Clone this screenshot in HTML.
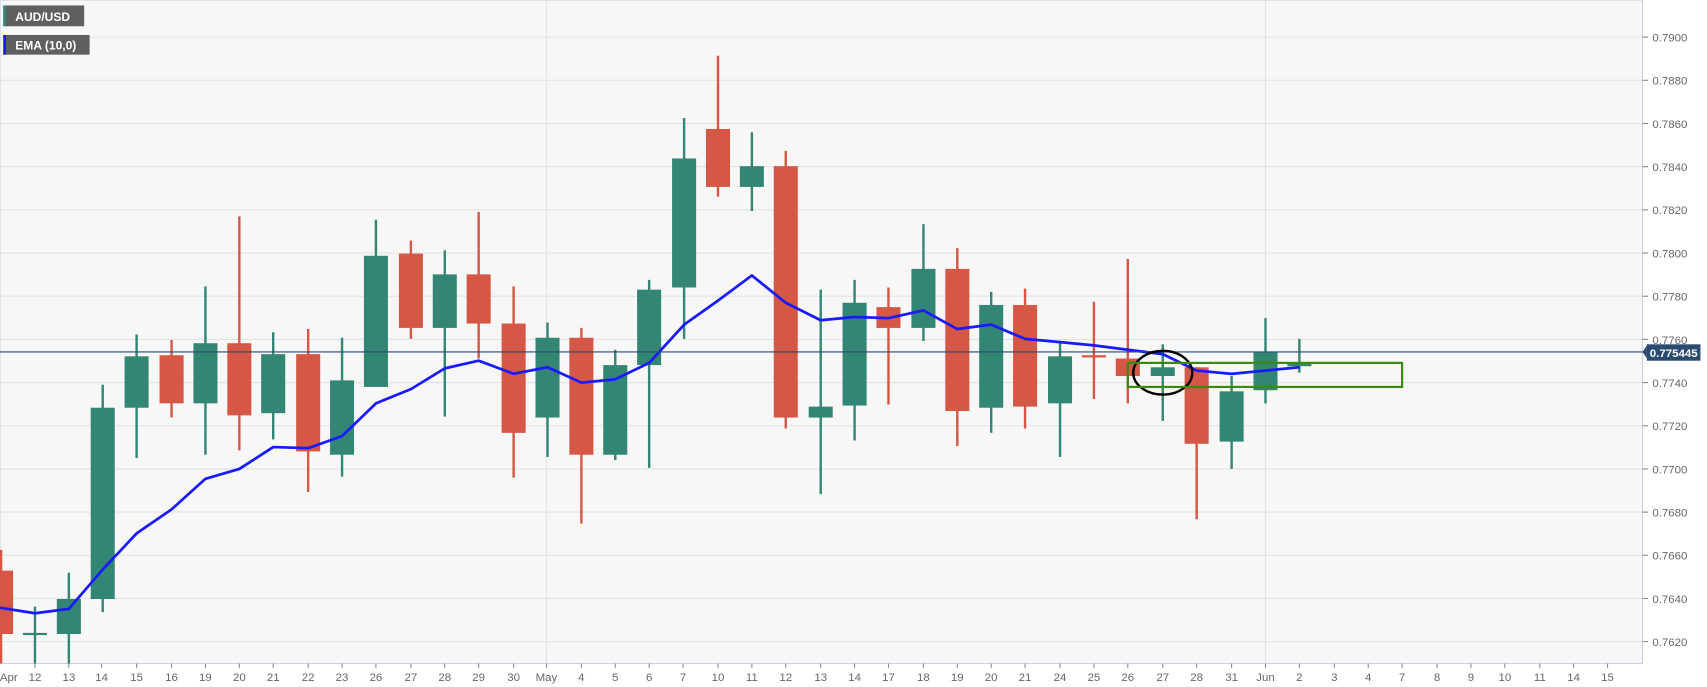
<!DOCTYPE html>
<html><head><meta charset="utf-8"><style>
html,body{margin:0;padding:0;background:#fff;}
svg{display:block;}
text{font-family:"Liberation Sans",Arial,sans-serif;}
</style></head><body>
<svg id="s" width="1707" height="687" viewBox="0 0 1562 628.5" preserveAspectRatio="none" xmlns="http://www.w3.org/2000/svg">
<rect x="0" y="0" width="1562" height="628.5" fill="#ffffff"/>
<rect x="0" y="0" width="1503" height="607" fill="#f7f7f7"/>
<g id="grid" stroke="#e3e3e3" stroke-width="1"></g>
<line x1="500" y1="0" x2="500" y2="607" stroke="#e3e3e3"/>
<line x1="1158" y1="0" x2="1158" y2="607" stroke="#e3e3e3"/>
<line x1="1503" y1="0" x2="1503" y2="607" stroke="#c8d0e4"/>
<line x1="0" y1="607" x2="1503" y2="607" stroke="#c8d0e4"/>
<line x1="0" y1="0" x2="0" y2="607" stroke="#c8d0e4"/>
<line x1="0" y1="0" x2="1503" y2="0" stroke="#c8d0e4"/>
<g id="c"></g>
<polyline id="ema" fill="none" stroke="#1a1aff" stroke-width="2.5" stroke-linejoin="round"/>
<line x1="0" y1="322" x2="1503" y2="322" stroke="#2b4a70" stroke-width="1"/>
<ellipse cx="1064" cy="341" rx="27" ry="20" fill="none" stroke="#000" stroke-width="2.2"/>
<rect x="1032" y="332" width="251" height="22" fill="none" stroke="#3a8a10" stroke-width="2"/>
<polygon points="1503,322 1507,316 1507,328" fill="#2b4a70"/>
<rect x="1507" y="315" width="49" height="15" fill="#2b4a70"/>
<text x="1531.5" y="326.5" font-size="10.5" font-weight="bold" fill="#fff" text-anchor="middle">0.775445</text>
<g font-size="10.5" fill="#666">
<text x="1512" y="38">0.7900</text><text x="1512" y="77.5">0.7880</text><text x="1512" y="117">0.7860</text><text x="1512" y="156.5">0.7840</text><text x="1512" y="196">0.7820</text><text x="1512" y="235.5">0.7800</text><text x="1512" y="275">0.7780</text><text x="1512" y="314.5">0.7760</text><text x="1512" y="354">0.7740</text><text x="1512" y="393.5">0.7720</text><text x="1512" y="433">0.7700</text><text x="1512" y="472.5">0.7680</text><text x="1512" y="512">0.7660</text><text x="1512" y="551.5">0.7640</text><text x="1512" y="591">0.7620</text>
</g>
<g id="yt" stroke="#888"></g>
<g id="xt" stroke="#888"></g>
<g font-size="10.5" fill="#666" text-anchor="middle">
<text x="8" y="623">Apr</text><text x="32" y="623">12</text><text x="63" y="623">13</text><text x="93" y="623">14</text><text x="125" y="623">15</text><text x="157" y="623">16</text><text x="188" y="623">19</text><text x="219" y="623">20</text><text x="250" y="623">21</text><text x="282" y="623">22</text><text x="313" y="623">23</text><text x="344" y="623">26</text><text x="376" y="623">27</text><text x="407" y="623">28</text><text x="438" y="623">29</text><text x="470" y="623">30</text><text x="500" y="623">May</text><text x="532" y="623">4</text><text x="563" y="623">5</text><text x="594" y="623">6</text><text x="625" y="623">7</text><text x="657" y="623">10</text><text x="688" y="623">11</text><text x="719" y="623">12</text><text x="751" y="623">13</text><text x="782" y="623">14</text><text x="813" y="623">17</text><text x="845" y="623">18</text><text x="876" y="623">19</text><text x="907" y="623">20</text><text x="938" y="623">21</text><text x="970" y="623">24</text><text x="1001" y="623">25</text><text x="1032" y="623">26</text><text x="1064" y="623">27</text><text x="1095" y="623">28</text><text x="1127" y="623">31</text><text x="1158" y="623">Jun</text><text x="1189" y="623">2</text><text x="1221" y="623">3</text><text x="1252" y="623">4</text><text x="1283" y="623">7</text><text x="1315" y="623">8</text><text x="1346" y="623">9</text><text x="1377" y="623">10</text><text x="1409" y="623">11</text><text x="1440" y="623">14</text><text x="1471" y="623">15</text>
</g>
<rect x="3" y="5" width="74" height="19" fill="#5f5f5f"/><rect x="3" y="5" width="2.5" height="19" fill="#338673"/>
<text x="14" y="19" font-size="11" font-weight="bold" fill="#fff">AUD/USD</text>
<rect x="3" y="32" width="79" height="18" fill="#5f5f5f"/><rect x="3" y="32" width="2.5" height="18" fill="#1a1aff"/>
<text x="14" y="45.5" font-size="11" font-weight="bold" fill="#fff">EMA (10,0)</text>
</svg>
<script>
var NS="http://www.w3.org/2000/svg";
function el(p,t,a){var e=document.createElementNS(NS,t);for(var k in a)e.setAttribute(k,a[k]);p.appendChild(e);return e;}
var g=document.getElementById('grid'),yt=document.getElementById('yt'),xt=document.getElementById('xt');
for(var i=0;i<15;i++){var y=34+i*39.5;el(g,'line',{x1:0,y1:y,x2:1503,y2:y});el(yt,'line',{x1:1503,y1:y,x2:1508,y2:y});}
var xs=[32,63,93,125,157,188,219,250,282,313,344,376,407,438,470,500,532,563,594,625,657,688,719,751,782,813,845,876,907,938,970,1001,1032,1064,1095,1127,1158,1189,1221,1252,1283,1315,1346,1377,1409,1440,1471];
xs.forEach(function(x){el(xt,'line',{x1:x,y1:607,x2:x,y2:611});});
var R="#d55745",G="#338673";
var d=[
[1,'r',503,607,522,580],[32,'g',555,607,580,580],[63,'g',524,607,548,580],[94,'g',352,560,373,548],
[125,'g',306,419,326,373],[157,'r',311,382,325,369],[188,'g',262,416,314,369],[219,'r',198,412,314,380],
[250,'g',304,402,324,378],[282,'r',301,450,324,413],[313,'g',309,436,348,416],[344,'g',201,354,234,354],
[376,'r',220,310,232,300],[407,'g',229,381,251,300],[438,'r',194,328,251,296],[470,'r',262,437,296,396],
[501,'g',295,418,309,382],[532,'r',300,479,309,416],[563,'g',320,421,334,416],[594,'g',256,428,265,334],
[626,'g',108,310,145,263],[657,'r',51,180,118,171],[688,'g',121,193,152,171],[719,'r',138,392,152,382],
[751,'g',265,452,372,382],[782,'g',256,403,277,371],[813,'r',263,370,281,300],[845,'g',205,312,246,300],
[876,'r',227,408,246,376],[907,'g',267,396,279,373],[938,'r',264,392,279,372],[970,'g',314,418,326,369],
[1001,'r',276,365,326,326],[1032,'r',237,369,328,344],[1064,'g',315,385,336,344],[1095,'r',336,475,336,406],
[1127,'g',344,429,358,404],[1158,'g',291,369,322,357],[1189,'g',310,341,333,335]];
var c=document.getElementById('c');
d.forEach(function(k){var col=k[1]=='r'?R:G;var x=k[0];
el(c,'line',{x1:x,y1:k[2],x2:x,y2:k[3],stroke:col,'stroke-width':2.2});
var h=k[5]-k[4];if(h<2){el(c,'rect',{x:x-11,y:k[4]-1,width:22,height:2,fill:col});}
else el(c,'rect',{x:x-11,y:k[4],width:22,height:h,fill:col});});
var e=[556,561,557,521,488,466,438,429,409,410,399,369,356,337,330,342,336,350,347,332,297,275,252,277,293,290,291,284,301,297,310,313,316,320,324,339,342,339,336];
var pts=e.map(function(y,i){return (i==0?0:d[i][0])+','+y;}).join(' ');
document.getElementById('ema').setAttribute('points',pts);
</script>
</body></html>
